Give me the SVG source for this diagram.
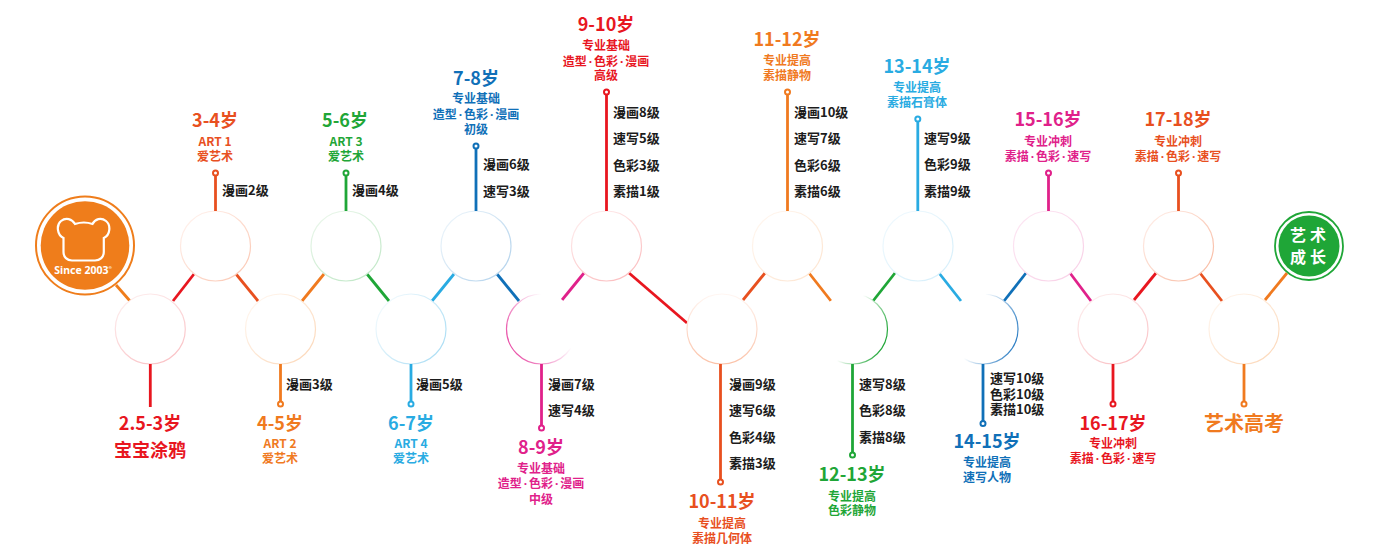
<svg xmlns="http://www.w3.org/2000/svg" width="1400" height="560" viewBox="0 0 1400 560">
<style>
text{font-family:"Noto Sans CJK SC","Noto Sans",sans-serif;font-weight:700;text-anchor:middle}
.h{font-size:18px}.s{font-size:12px}.l{font-size:13px;fill:#1c1c1c;text-anchor:start}
.d{font-size:12px;font-family:"Noto Sans","Noto Sans CJK SC",sans-serif;word-spacing:-1.2px}
.big{font-size:18px}
.ring{fill:#fff;stroke-width:1.2}
.c line{stroke-width:2.8;fill:none}
.v{stroke-width:2.8}.dot{fill:#fff;stroke-width:2}
</style>
<defs>
<linearGradient id="g1" x1="0.2" y1="0" x2="0.8" y2="1"><stop offset="0" stop-color="#fdeeee"/><stop offset="1" stop-color="#fac0c4"/></linearGradient>
<linearGradient id="g2" x1="0.1" y1="0.1" x2="0.9" y2="0.9"><stop offset="0" stop-color="#fff1ec"/><stop offset="1" stop-color="#fbc9b5"/></linearGradient>
<linearGradient id="g3" x1="0.1" y1="0.1" x2="0.9" y2="0.9"><stop offset="0" stop-color="#fff6ee"/><stop offset="1" stop-color="#fcd9bb"/></linearGradient>
<linearGradient id="g3b" x1="0" y1="0" x2="1" y2="1"><stop offset="0" stop-color="#fff8f2"/><stop offset="1" stop-color="#fde4cf"/></linearGradient>
<linearGradient id="g4" x1="0" y1="0" x2="0.7" y2="1"><stop offset="0" stop-color="#eef8ee"/><stop offset="1" stop-color="#c2e8c8"/></linearGradient>
<linearGradient id="g5" x1="0" y1="0.1" x2="1" y2="0.8"><stop offset="0" stop-color="#f8fcfe"/><stop offset="1" stop-color="#aaddf4"/></linearGradient>
<linearGradient id="g13" x1="0" y1="0" x2="1" y2="1"><stop offset="0" stop-color="#f2fafe"/><stop offset="1" stop-color="#d4eefa"/></linearGradient>
<linearGradient id="g6" x1="0" y1="0" x2="1" y2="0.8"><stop offset="0" stop-color="#f2f8fc"/><stop offset="1" stop-color="#b4d3ec"/></linearGradient>
<linearGradient id="g7" x1="0" y1="0.7" x2="0.9" y2="0.2"><stop offset="0" stop-color="#e84ba5"/><stop offset="0.75" stop-color="#ffffff"/></linearGradient>
<linearGradient id="g8" x1="0.2" y1="0" x2="0.8" y2="1"><stop offset="0" stop-color="#feeeee"/><stop offset="1" stop-color="#fbbcbe"/></linearGradient>
<linearGradient id="g9" x1="0.5" y1="0" x2="0.5" y2="1"><stop offset="0" stop-color="#fff6f2"/><stop offset="1" stop-color="#fbc2a8"/></linearGradient>
<linearGradient id="g10" x1="0.5" y1="0.4" x2="1" y2="0.6"><stop offset="0" stop-color="#ffffff"/><stop offset="1" stop-color="#1fa637"/></linearGradient>
<linearGradient id="g11" x1="0.4" y1="0.4" x2="1" y2="0.6"><stop offset="0" stop-color="#ffffff"/><stop offset="1" stop-color="#2f7fc4"/></linearGradient>
<linearGradient id="g12" x1="0" y1="0" x2="1" y2="1"><stop offset="0" stop-color="#fde8f4"/><stop offset="1" stop-color="#f8cfe6"/></linearGradient>
<linearGradient id="g14" x1="0" y1="0" x2="0.9" y2="0.8"><stop offset="0" stop-color="#fff2ee"/><stop offset="1" stop-color="#f9bfa8"/></linearGradient>
</defs>

<g id="connectors" class="c">
<line x1="116" y1="285" x2="130" y2="301" stroke="#ef7d1b"/>
<line x1="173" y1="301" x2="194" y2="274" stroke="#e8161f"/>
<line x1="236" y1="274" x2="258" y2="301" stroke="#e8501f"/>
<line x1="302" y1="301" x2="324" y2="274" stroke="#f07a1f"/>
<line x1="367" y1="274" x2="389" y2="301" stroke="#1fa637"/>
<line x1="432" y1="301" x2="454" y2="274" stroke="#29abe2"/>
<line x1="497" y1="274" x2="519" y2="301" stroke="#1070b8"/>
<line x1="562" y1="300" x2="584" y2="273" stroke="#e0218a"/>
<line x1="629" y1="273" x2="687" y2="323" stroke="#e8161f"/>
<line x1="743" y1="300" x2="765" y2="273" stroke="#e8501f"/>
<line x1="809" y1="273" x2="831" y2="301" stroke="#f07a1f"/>
<line x1="873" y1="301" x2="895" y2="273" stroke="#1fa637"/>
<line x1="939" y1="273" x2="961" y2="301" stroke="#29abe2"/>
<line x1="1004" y1="301" x2="1026" y2="273" stroke="#1070b8"/>
<line x1="1070" y1="273" x2="1091" y2="301" stroke="#e0218a"/>
<line x1="1134" y1="300" x2="1156" y2="273" stroke="#e8161f"/>
<line x1="1200" y1="273" x2="1222" y2="301" stroke="#e8501f"/>
<line x1="1265" y1="300" x2="1287" y2="273" stroke="#f07a1f"/>
</g>

<g id="logo">
<circle cx="85" cy="245.500" r="49" fill="#fff" stroke="#ef7d1b" stroke-width="2"/>
<circle cx="85" cy="245.500" r="44.300" fill="#ef7d1b"/>
<path d="M63.500 238C57 235 56 225 61 221C66 217 72 219 75 224Q84 221 92.500 224C95 219 101 217 106 221C111 225 110.500 235 103.800 238V252C103.800 257 100 260.500 95 260.500H72C67 260.500 63.500 257 63.500 252Z" fill="none" stroke="#fff" stroke-width="2.200"/>
<text x="83" y="274" font-size="10.500" fill="#fff" style="font-family:'Noto Sans',sans-serif">Since 2003<tspan font-size="4" dy="-5">®</tspan></text>
</g>

<g id="n25" fill="#e8161f">
<circle class="ring" cx="150.300" cy="329" r="35" stroke="url(#g1)"/>
<line class="v" x1="150.300" y1="364" x2="150.300" y2="407" stroke="#e8161f"/>
<text x="150" y="430" class="h">2.5-3岁</text><text x="150" y="457" class="big">宝宝涂鸦</text>
</g>
<g id="n3" fill="#e8501f">
<circle class="ring" cx="215.500" cy="246" r="35" stroke="url(#g2)"/>
<line class="v" x1="215.500" y1="211" x2="215.500" y2="174" stroke="#e8501f"/><circle class="dot" cx="215.500" cy="173" r="2.500" stroke="#e8501f"/>
<text x="215" y="127" class="h">3-4岁</text>
<text class="s" y="146"><tspan x="215">ART 1</tspan><tspan x="215" dy="14.500">爱艺术</tspan></text>
<text x="222" y="195" class="l">漫画2级</text>
</g>
<g id="n4" fill="#f07a1f">
<circle class="ring" cx="280.500" cy="329" r="35" stroke="url(#g3)"/>
<line class="v" x1="280.500" y1="364" x2="280.500" y2="404" stroke="#f07a1f"/><circle class="dot" cx="280.500" cy="404" r="2.500" stroke="#f07a1f"/>
<text x="280" y="430" class="h">4-5岁</text>
<text class="s" y="448"><tspan x="280">ART 2</tspan><tspan x="280" dy="15">爱艺术</tspan></text>
<text x="286" y="389" class="l">漫画3级</text>
</g>
<g id="n5" fill="#1fa637">
<circle class="ring" cx="346" cy="246" r="35" stroke="url(#g4)"/>
<line class="v" x1="346" y1="211" x2="346" y2="174" stroke="#1fa637"/><circle class="dot" cx="346" cy="173" r="2.500" stroke="#1fa637"/>
<text x="345" y="127" class="h">5-6岁</text>
<text class="s" y="146"><tspan x="346">ART 3</tspan><tspan x="346" dy="14.500">爱艺术</tspan></text>
<text x="352" y="195" class="l">漫画4级</text>
</g>
<g id="n6" fill="#29abe2">
<circle class="ring" cx="411" cy="329" r="35" stroke="url(#g5)"/>
<line class="v" x1="411" y1="364" x2="411" y2="404" stroke="#29abe2"/><circle class="dot" cx="411" cy="404" r="2.500" stroke="#29abe2"/>
<text x="411" y="430" class="h">6-7岁</text>
<text class="s" y="448"><tspan x="411">ART 4</tspan><tspan x="411" dy="15">爱艺术</tspan></text>
<text x="416" y="389" class="l">漫画5级</text>
</g>
<g id="n7" fill="#1070b8">
<circle class="ring" cx="476" cy="246" r="35" stroke="url(#g6)"/>
<line class="v" x1="476" y1="211" x2="476" y2="147" stroke="#1070b8"/><circle class="dot" cx="476" cy="146" r="2.500" stroke="#1070b8"/>
<text x="476" y="85" class="h">7-8岁</text><text x="476" y="103" class="s">专业基础</text><text x="476" y="119" class="d">造型 · 色彩 · 漫画</text><text x="476" y="134" class="s">初级</text>
<text x="483" y="169" class="l">漫画6级</text><text x="483" y="196" class="l">速写3级</text>
</g>
<g id="n8" fill="#e0218a">
<circle class="ring" cx="541.500" cy="329" r="35" stroke="url(#g7)"/>
<line class="v" x1="541.500" y1="364" x2="541.500" y2="428" stroke="#e0218a"/><circle class="dot" cx="541.500" cy="428" r="2.500" stroke="#e0218a"/>
<text x="541" y="454" class="h">8-9岁</text><text x="541" y="473" class="s">专业基础</text><text x="541" y="488" class="d">造型 · 色彩 · 漫画</text><text x="541" y="504" class="s">中级</text>
<text x="548" y="389" class="l">漫画7级</text><text x="548" y="415" class="l">速写4级</text>
</g>
<g id="n9" fill="#e8161f">
<circle class="ring" cx="606.500" cy="246" r="35" stroke="url(#g8)"/>
<line class="v" x1="606.500" y1="211" x2="606.500" y2="93" stroke="#e8161f"/><circle class="dot" cx="606.500" cy="92" r="2.500" stroke="#e8161f"/>
<text x="606" y="31" class="h">9-10岁</text><text x="606" y="50" class="s">专业基础</text><text x="606" y="66" class="d">造型 · 色彩 · 漫画</text><text x="606" y="80" class="s">高级</text>
<text x="613" y="117" class="l">漫画8级</text><text x="613" y="143" class="l">速写5级</text><text x="613" y="170" class="l">色彩3级</text><text x="613" y="196" class="l">素描1级</text>
</g>
<g id="n10" fill="#e8501f">
<circle class="ring" cx="722" cy="329" r="35" stroke="url(#g9)"/>
<line class="v" x1="720.500" y1="364" x2="720.500" y2="482" stroke="#e8501f"/><circle class="dot" cx="720.500" cy="482" r="2.500" stroke="#e8501f"/>
<text x="722" y="508" class="h">10-11岁</text><text x="722" y="528" class="s">专业提高</text><text x="722" y="543" class="s">素描几何体</text>
<text x="729" y="389" class="l">漫画9级</text><text x="729" y="415" class="l">速写6级</text><text x="729" y="442" class="l">色彩4级</text><text x="729" y="468" class="l">素描3级</text>
</g>
<g id="n11" fill="#f07a1f">
<circle class="ring" cx="787.500" cy="246" r="35" stroke="url(#g3b)"/>
<line class="v" x1="787.500" y1="211" x2="787.500" y2="93" stroke="#f07a1f"/><circle class="dot" cx="787.500" cy="92" r="2.500" stroke="#f07a1f"/>
<text x="787" y="46" class="h">11-12岁</text><text x="787" y="65" class="s">专业提高</text><text x="787" y="80" class="s">素描静物</text>
<text x="794" y="117" class="l">漫画10级</text><text x="794" y="143" class="l">速写7级</text><text x="794" y="170" class="l">色彩6级</text><text x="794" y="196" class="l">素描6级</text>
</g>
<g id="n12" fill="#1fa637">
<circle class="ring" cx="852.500" cy="329" r="35" stroke="url(#g10)"/>
<line class="v" x1="852.500" y1="364" x2="852.500" y2="455" stroke="#1fa637"/><circle class="dot" cx="852.500" cy="455" r="2.500" stroke="#1fa637"/>
<text x="852" y="481" class="h">12-13岁</text><text x="852" y="501" class="s">专业提高</text><text x="852" y="515" class="s">色彩静物</text>
<text x="859" y="389" class="l">速写8级</text><text x="859" y="415" class="l">色彩8级</text><text x="859" y="442" class="l">素描8级</text>
</g>
<g id="n13" fill="#29abe2">
<circle class="ring" cx="918" cy="246" r="35" stroke="url(#g13)"/>
<line class="v" x1="917.800" y1="211" x2="917.800" y2="120" stroke="#29abe2"/><circle class="dot" cx="917.800" cy="119" r="2.500" stroke="#29abe2"/>
<text x="917" y="73" class="h">13-14岁</text><text x="917" y="92" class="s">专业提高</text><text x="917" y="107" class="s">素描石膏体</text>
<text x="924" y="143" class="l">速写9级</text><text x="924" y="169" class="l">色彩9级</text><text x="924" y="196" class="l">素描9级</text>
</g>
<g id="n14" fill="#1070b8">
<circle class="ring" cx="983" cy="329" r="35" stroke="url(#g11)"/>
<line class="v" x1="983" y1="364" x2="983" y2="424" stroke="#1070b8"/><circle class="dot" cx="983" cy="423.500" r="2.500" stroke="#1070b8"/>
<text x="987" y="448" class="h">14-15岁</text><text x="987" y="467" class="s">专业提高</text><text x="987" y="482" class="s">速写人物</text>
<text class="l" y="383"><tspan x="990">速写10级</tspan><tspan x="990" dy="15.500">色彩10级</tspan><tspan x="990" dy="15.500">素描10级</tspan></text>
</g>
<g id="n15" fill="#e0218a">
<circle class="ring" cx="1048.500" cy="246" r="35" stroke="url(#g12)"/>
<line class="v" x1="1048.500" y1="211" x2="1048.500" y2="173" stroke="#e0218a"/><circle class="dot" cx="1048.500" cy="173" r="2.500" stroke="#e0218a"/>
<text x="1048" y="126" class="h">15-16岁</text><text x="1048" y="146" class="s">专业冲刺</text><text x="1048" y="161" class="d">素描 · 色彩 · 速写</text>
</g>
<g id="n16" fill="#e8161f">
<circle class="ring" cx="1113" cy="329" r="35" stroke="url(#g1)"/>
<line class="v" x1="1113" y1="364" x2="1113" y2="404" stroke="#e8161f"/><circle class="dot" cx="1113" cy="404" r="2.500" stroke="#e8161f"/>
<text x="1113" y="430" class="h">16-17岁</text><text x="1113" y="448" class="s">专业冲刺</text><text x="1113" y="463" class="d">素描 · 色彩 · 速写</text>
</g>
<g id="n17" fill="#e8501f">
<circle class="ring" cx="1178.500" cy="246" r="35" stroke="url(#g14)"/>
<line class="v" x1="1178.500" y1="211" x2="1178.500" y2="173" stroke="#e8501f"/><circle class="dot" cx="1178.500" cy="173" r="2.500" stroke="#e8501f"/>
<text x="1178" y="126" class="h">17-18岁</text><text x="1178" y="146" class="s">专业冲刺</text><text x="1178" y="161" class="d">素描 · 色彩 · 速写</text>
</g>
<g id="n18" fill="#f07a1f">
<circle class="ring" cx="1244" cy="329" r="35" stroke="url(#g3)"/>
<line class="v" x1="1244" y1="364" x2="1244" y2="404" stroke="#f07a1f"/><circle class="dot" cx="1244" cy="404" r="2.500" stroke="#f07a1f"/>
<text x="1244" y="431" style="font-size:20px">艺术高考</text>
</g>
<g id="end">
<circle cx="1309" cy="246" r="34" fill="#fff" stroke="#1fa637" stroke-width="1.800"/>
<circle cx="1309" cy="246" r="30.500" fill="#1fa637"/>
<text x="1310" y="241" font-size="16" fill="#fff" letter-spacing="4">艺术</text>
<text x="1310" y="263" font-size="16" fill="#fff" letter-spacing="4">成长</text>
</g>
</svg>
